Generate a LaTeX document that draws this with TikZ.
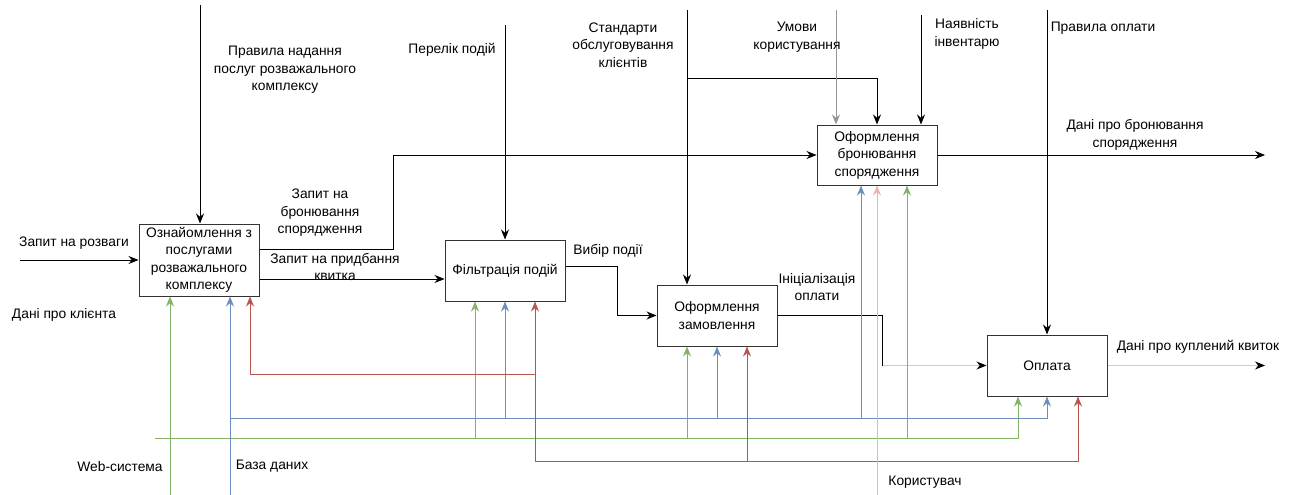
\documentclass[tikz,border=0pt]{standalone}
\usepackage{fontspec}
\setmainfont{Liberation Sans}
\usepackage{tikz}
\usetikzlibrary{arrows.meta,positioning,calc}
\definecolor{zelenyi}{RGB}{130,179,102}
\definecolor{synii}{RGB}{108,142,191}
\definecolor{chervonyi}{RGB}{184,84,80}
\definecolor{rozhevyi}{RGB}{236,178,176}
\definecolor{siryi}{RGB}{150,150,150}
\definecolor{svitlyi}{RGB}{205,205,205}

\begin{document}
\begin{tikzpicture}[
	x=1pt, y=-1pt,
	font=\fontsize{13.8}{17.5}\selectfont,
	>={Stealth[length=10pt,width=8pt]},
	blok/.style={rectangle, draw=black!80, fill=white, line width=1pt, minimum width=120pt, minimum height=61pt, inner sep=1pt, align=center},
	mitka/.style={align=center, inner sep=0pt},
	strilka/.style={->, line width=0.9pt},
	liniya/.style={line width=0.9pt},
]
\useasboundingbox (0,0) rectangle (1290,495);

\node[blok, minimum height=72pt] (a1) at (199,260) {Ознайомлення з\\послугами\\розважального\\комплексу};
\node[blok] (a2) at (505,270.5) {Фільтрація подій};
\node[blok] (a3) at (717,315.5) {Оформлення\\замовлення};
\node[blok, minimum height=60pt] (a4) at (877,155) {Оформлення\\бронювання\\спорядження};
\node[blok] (a5) at (1047,365.5) {Оплата};

% vilni kintsi
\coordinate (vkh) at (20,260);
\coordinate (pravN) at (200,5);
\coordinate (perN) at (505,25);
\coordinate (stdN) at (687,10);
\coordinate (stdV) at (687,78);
\coordinate (umN) at (836,10);
\coordinate (nayN) at (921,15);
\coordinate (oplN) at (1047,10);
\coordinate (vykh1) at (1265,155);
\coordinate (vykh2) at (1265,365.5);
\coordinate (webN) at (170,495);
\coordinate (bazaN) at (230,495);
\coordinate (korN) at (877,495);
\coordinate (zelL) at (155,438);
\coordinate (synL) at (230,418);
\coordinate (chvL) at (250,374);
\coordinate (chvR) at (535,461);

% vkhody, keruvannia, vykhody
\draw[strilka] (vkh) -- (a1.west);
\draw[strilka] (pravN) -- (pravN |- a1.north);
\draw[strilka] ([yshift=11pt]a1.east) -- ++(134,0) |- (a4.west);
\draw[strilka] ([yshift=-19pt]a1.east) -- ([yshift=-19pt]a1.east -| a2.west);
\draw[strilka] (perN) -- (a2.north);
\draw[strilka] ([yshift=4.5pt]a2.east) -- ++(52,0) |- (a3.west);
\draw[strilka] (stdN) -- (stdN |- a3.north);
\draw[strilka] (stdV) -| (a4.north);
\draw[strilka, siryi] (umN) -- (umN |- a4.north);
\draw[strilka] (nayN) -- (nayN |- a4.north);
\draw[strilka] (oplN) -- (a5.north);
\draw[strilka] (a4.east) -- (vykh1);
\draw[liniya] (a3.east) -| ([xshift=-104pt]a5.west);
\draw[line width=0.9pt, svitlyi, -{Stealth[length=10pt,width=8pt,color=black]}] ([xshift=-104pt]a5.west) -- (a5.west);
\draw[line width=0.9pt, svitlyi, -{Stealth[length=10pt,width=8pt,color=black]}] (a5.east) -- (vykh2);

% mekhanizmy
\draw[strilka, zelenyi] (webN) -- (webN |- a1.south);
\draw[strilka, zelenyi] (zelL) -| ([xshift=-29pt]a5.south);
\draw[strilka, zelenyi] ([xshift=-30pt]a2.south |- zelL) -- ([xshift=-30pt]a2.south);
\draw[strilka, zelenyi] ([xshift=-30pt]a3.south |- zelL) -- ([xshift=-30pt]a3.south);
\draw[strilka, zelenyi] ([xshift=30pt]a4.south |- zelL) -- ([xshift=30pt]a4.south);
\draw[strilka, synii] (bazaN) -- (bazaN |- a1.south);
\draw[strilka, synii] (synL) -| (a5.south);
\draw[strilka, synii] (a2.south |- synL) -- (a2.south);
\draw[strilka, synii] (a3.south |- synL) -- (a3.south);
\draw[strilka, synii] ([xshift=-16pt]a4.south |- synL) -- ([xshift=-16pt]a4.south);
\draw[strilka, chervonyi] (chvR) -- ([xshift=30pt]a2.south);
\draw[strilka, chervonyi] (chvR |- chvL) -| ([xshift=51pt]a1.south);
\draw[strilka, chervonyi] (chvR) -| ([xshift=31pt]a5.south);
\draw[strilka, chervonyi] ([xshift=30pt]a3.south |- chvR) -- ([xshift=30pt]a3.south);
\draw[strilka, rozhevyi] (korN) -- (a4.south);

% pidpysy
\node[mitka] (lRozv) at (74,243) {Запит на розваги};
\node[mitka] (lKlient) at (64,315) {Дані про клієнта};
\node[mitka] (lPrav) at (285,70) {Правила надання\\послуг розважального\\комплексу};
\node[mitka] (lBron) at (320,213) {Запит на\\бронювання\\спорядження};
\node[mitka] (lKvyt) at (335,267) {Запит на придбання\\квитка};
\node[mitka] (lPerel) at (452,50) {Перелік подій};
\node[mitka] (lVybir) at (608,251) {Вибір події};
\node[mitka] (lStd) at (623,45) {Стандарти\\обслуговування\\клієнтів};
\node[mitka] (lUmovy) at (797,37) {Умови\\користування};
\node[mitka] (lNayav) at (967,34) {Наявність\\інвентарю};
\node[mitka] (lOpl) at (1103,28) {Правила оплати};
\node[mitka] (lDaniBron) at (1135,135) {Дані про бронювання\\спорядження};
\node[mitka] (lInit) at (817,287) {Ініціалізація\\оплати};
\node[mitka] (lKuplen) at (1198,347) {Дані про куплений квиток};
\node[mitka] (lWeb) at (120,467) {Web-система};
\node[mitka] (lBaza) at (272,466) {База даних};
\node[mitka] (lKor) at (925,482) {Користувач};
\end{tikzpicture}
\end{document}
